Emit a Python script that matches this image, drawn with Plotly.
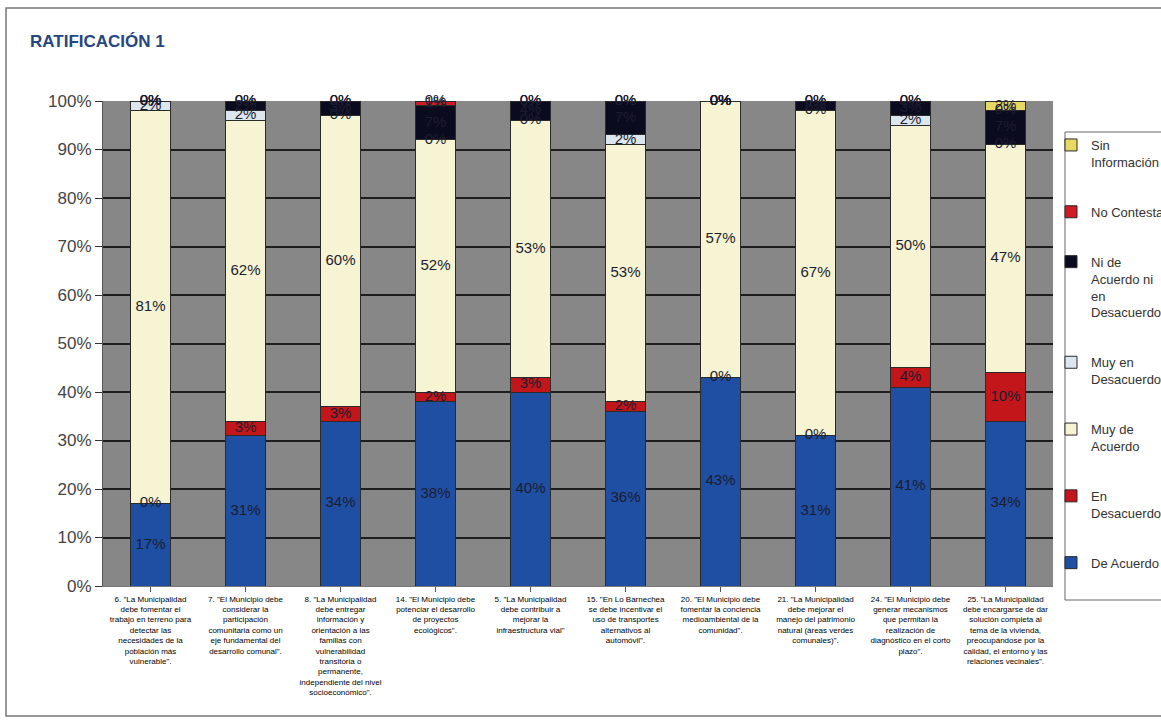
import plotly.graph_objects as go

categories = [
    '6. "La Municipalidad<br>debe fomentar el<br>trabajo en terreno para<br>detectar las<br>necesidades de la<br>población más<br>vulnerable".',
    '7. "El Municipio debe<br>considerar la<br>participación<br>comunitaria como un<br>eje fundamental del<br>desarrollo comunal".',
    '8. "La Municipalidad<br>debe entregar<br>información y<br>orientación a las<br>familias con<br>vulnerabilidad<br>transitoria o<br>permanente,<br>independiente del nivel<br>socioeconómico".',
    '14. "El Municipio debe<br>potenciar el desarrollo<br>de proyectos<br>ecológicos".',
    '5. "La Municipalidad<br>debe contribuir a<br>mejorar la<br>infraestructura vial"',
    '15. "En Lo Barnechea<br>se debe incentivar el<br>uso de transportes<br>alternativos al<br>automóvil".',
    '20. "El Municipio debe<br>fomentar la conciencia<br>medioambiental de la<br>comunidad".',
    '21. "La Municipalidad<br>debe mejorar el<br>manejo del patrimonio<br>natural (áreas verdes<br>comunales)".',
    '24. "El Municipio debe<br>generar mecanismos<br>que permitan la<br>realización de<br>diagnóstico en el corto<br>plazo".',
    '25. "La Municipalidad<br>debe encargarse de dar<br>solución completa al<br>tema de la vivienda,<br>preocupándose por la<br>calidad, el entorno y las<br>relaciones vecinales".',
]

series_names = [
    "De Acuerdo",
    "En Desacuerdo",
    "Muy de Acuerdo",
    "Muy en Desacuerdo",
    "Ni de Acuerdo ni en Desacuerdo",
    "No Contesta",
    "Sin Información",
]
legend_labels = [
    "De Acuerdo",
    "En<br>Desacuerdo",
    "Muy de<br>Acuerdo",
    "Muy en<br>Desacuerdo",
    "Ni de<br>Acuerdo ni<br>en<br>Desacuerdo",
    "No Contesta",
    "Sin<br>Información",
]

de_acuerdo = [17, 31, 34, 38, 40, 36, 43, 31, 41, 34]
en_desacuerdo = [0, 3, 3, 2, 3, 2, 0, 0, 4, 10]
muy_de_acuerdo = [81, 62, 60, 52, 53, 53, 57, 67, 50, 47]
muy_en_desacuerdo = [2, 2, 0, 0, 0, 2, 0, 0, 2, 0]
ni_de_acuerdo = [0, 2, 3, 7, 4, 7, 0, 2, 3, 7]
no_contesta = [0, 0, 0, 1, 0, 0, 0, 0, 0, 0]
sin_informacion = [0, 0, 0, 0, 0, 0, 0, 0, 0, 2]

y_ticks = [0, 10, 20, 30, 40, 50, 60, 70, 80, 90, 100]

all_values = [de_acuerdo, en_desacuerdo, muy_de_acuerdo, muy_en_desacuerdo,
              ni_de_acuerdo, no_contesta, sin_informacion]
colors = ["#1f4fa3", "#c2161a", "#f6f4d2", "#dce6ee", "#0b0b1f", "#d01a24", "#e8d964"]

x = list(range(len(categories)))
fig = go.Figure()

n = len(series_names)
for i, (name, lab, vals, col) in enumerate(zip(series_names, legend_labels, all_values, colors)):
    fig.add_trace(go.Bar(
        x=x, y=vals, name=lab, legendgroup=name, legendrank=100 * (n - i),
        marker=dict(color=col, line=dict(color="#2a2a2a", width=1)),
        width=0.42,
    ))

# data labels (including 0% segments) at segment midpoints
base = [0] * len(x)
for vals in all_values:
    mids = [b + v / 2 for b, v in zip(base, vals)]
    fig.add_trace(go.Scatter(
        x=x, y=mids, mode="text", text=[f"{v}%" for v in vals],
        textfont=dict(family="Arial, Liberation Sans", size=15, color="#1c1c30"),
        showlegend=False, hoverinfo="skip", cliponaxis=False,
    ))
    base = [b + v for b, v in zip(base, vals)]

W, H = 1161, 721
L, R, T, B = 103, 1053, 101, 586
pw, ph = R - L, B - T


def px(xp):
    return (xp - L) / pw


def py(yp):
    return (B - yp) / ph


fig.update_layout(
    width=W, height=H,
    margin=dict(l=L, r=W - R, t=T, b=H - B, pad=0, autoexpand=False),
    barmode="stack",
    paper_bgcolor="white",
    plot_bgcolor="#878787",
    font=dict(family="Arial, Liberation Sans, sans-serif", color="#333"),
    title=dict(text="<b>RATIFICACIÓN 1</b>", x=30 / W, xanchor="left",
               y=1 - 41 / H, yanchor="middle",
               font=dict(family="Arial, Liberation Sans", size=17, color="#264683")),
    legend=dict(
        xref="container", yref="container",
        x=1051 / W, y=1 - 130 / H, xanchor="left", yanchor="top",
        traceorder="grouped", tracegroupgap=30, maxheight=590,
        valign="top", itemwidth=30,
        font=dict(family="Arial, Liberation Sans", size=13, color="#333"),
        bgcolor="rgba(0,0,0,0)",
    ),
    xaxis=dict(
        tickmode="array", tickvals=x, ticktext=categories,
        tickfont=dict(family="Arial, Liberation Sans", size=8, color="#000"),
        tickangle=0, range=[-0.5, len(x) - 0.5],
        ticks="outside", tickson="boundaries", ticklen=5, tickcolor="#555",
        showline=True, linecolor="#777", showgrid=False, automargin=False,
    ),
    yaxis=dict(
        range=[0, 100], tickvals=y_ticks, ticktext=[f"{t}%" for t in y_ticks],
        tickfont=dict(family="Arial, Liberation Sans", size=17, color="#444"),
        ticks="outside", ticklen=7, tickcolor="#333",
        showgrid=True, gridcolor="#1e1e1e", gridwidth=1.5,
        showline=True, linecolor="#555", zeroline=False, automargin=False,
    ),
    shapes=[
        dict(type="rect", xref="paper", yref="paper",
             x0=px(6), x1=px(1200), y0=py(716), y1=py(8),
             line=dict(color="#777", width=1.5), fillcolor="rgba(0,0,0,0)", layer="below"),
        dict(type="rect", xref="paper", yref="paper",
             x0=px(1065), x1=px(1200), y0=py(600), y1=py(132),
             line=dict(color="#666", width=1), fillcolor="rgba(0,0,0,0)"),
    ],
)

fig.write_html("out.html")
